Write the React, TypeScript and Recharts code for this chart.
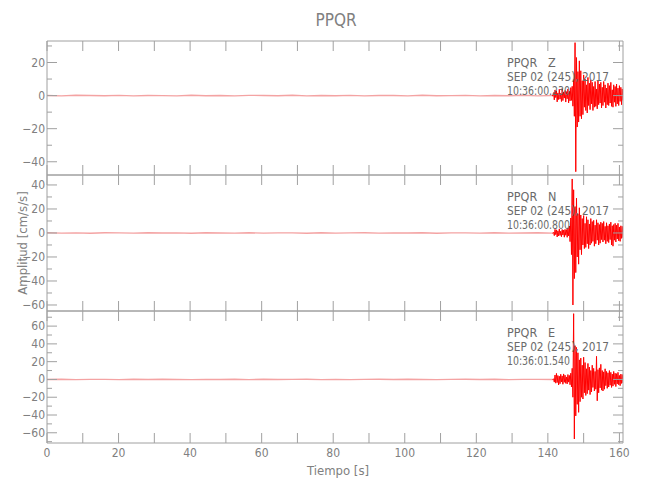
import { LineChart, Line, XAxis, YAxis } from "recharts";

// tick positions
const X_TICKS = [0, 10, 20, 30, 40, 50, 60, 70, 80, 90, 100, 110, 120, 130, 140, 150, 160];
const Z_TICKS = [-40, -30, -20, -10, 0, 10, 20, 30];
const N_TICKS = [-60, -50, -40, -30, -20, -10, 0, 10, 20, 30, 40];
const E_TICKS = [-70, -60, -50, -40, -30, -20, -10, 0, 10, 20, 30, 40, 50, 60, 70];

// pre-event noise, 36 samples from 0 s to 141.2 s
const NOISE_DT = 141.2 / 35;
const Z_NOISE = [0.1, -0.15, 0.2, 0.05, -0.1, 0.15, -0.2, 0.1, 0.0, -0.15, 0.2, -0.05, 0.1, -0.2, 0.15, 0.05, -0.1, 0.2, -0.15, 0.1, -0.05, 0.15, -0.2, 0.1, 0.05, -0.15, 0.2, -0.1, 0.0, 0.15, -0.2, 0.1, -0.05, 0.2, -0.15, 0.1];
const N_NOISE = [0.15, -0.1, 0.05, -0.2, 0.15, 0.1, -0.15, 0.2, -0.05, 0.1, -0.2, 0.15, 0.0, -0.1, 0.2, -0.15, 0.05, 0.1, -0.2, 0.15, -0.1, 0.05, 0.2, -0.15, 0.1, -0.05, 0.15, -0.2, 0.1, 0.05, -0.15, 0.2, -0.1, 0.0, 0.15, -0.1];
const E_NOISE = [-0.1, 0.15, -0.2, 0.1, 0.05, -0.15, 0.2, -0.1, 0.15, 0.0, -0.2, 0.1, -0.05, 0.15, -0.15, 0.2, -0.1, 0.05, 0.15, -0.2, 0.1, -0.15, 0.05, 0.2, -0.1, 0.15, -0.05, -0.2, 0.1, 0.15, -0.1, 0.2, -0.15, 0.05, 0.1, -0.1];

// event, sampled every 0.2 s from 141.2 s (cm/s/s)
const SIG_T0 = 141.2;
const SIG_DT = 0.2;
const Z_SIGNAL = [
  0.3, -0.4, 1.8, -2.6, 3.4, -1.2, 2.9, -3.8, 1.6, -2.4,
  3.9, -2.1, 1.4, -3.6, 4.2, -3.0, 2.2, -1.5, 3.1, -3.9,
  2.4, -1.9, 4.0, -4.4, 2.6, -3.2, 4.8, -2.9, 5.6, -6.4,
  9.8, -12.5, 32.0, -46.0, 23.0, -19.0, 14.5, -16.0, 21.0, -12.5,
  15.0, -14.0, 9.0, -11.5, 12.5, -7.0, 10.0, -9.0, 6.5, -10.5,
  11.0, -6.0, 7.5, -8.5, 9.5, -5.0, 8.0, -9.0, 5.5, -7.0,
  8.5, -6.5, 4.0, -8.0, 9.0, -5.5, 7.0, -4.5, 8.0, -7.5,
  5.0, -6.0, 8.5, -4.0, 6.5, -7.5, 4.5, -5.5, 7.5, -6.0,
  6.0, -4.5, 8.0, -6.5, 3.5, -7.0, 6.5, -4.0, 5.5, -6.5,
  7.0, -5.0, 4.5, -6.0, 6.0, -3.5, 5.0, -5.5, 4.0, -3.0,
];
const N_SIGNAL = [
  0.2, -0.3, 0.5, -2.2, 3.0, -1.4, 2.6, -3.3, 1.8, -2.5,
  3.4, -2.0, 1.5, -3.1, 2.9, -1.7, 2.4, -3.5, 3.0, -1.9,
  2.8, -3.6, 4.2, -2.5, 5.8, -7.2, 12.5, -18.0, 45.0, -60.0,
  36.0, -38.0, 22.0, -33.0, 29.0, -20.0, 16.0, -26.0, 21.0, -14.0,
  15.0, -18.0, 12.0, -10.0, 14.5, -13.0, 8.0, -12.0, 13.5, -9.0,
  11.0, -13.0, 7.5, -10.0, 12.0, -8.5, 9.5, -7.0, 10.5, -11.0,
  6.5, -9.0, 11.0, -6.0, 8.5, -10.0, 7.0, -8.5, 9.0, -5.5,
  8.0, -7.5, 9.5, -6.0, 5.5, -9.0, 8.5, -7.0, 6.0, -8.0,
  7.5, -5.5, 9.0, -10.0, 6.0, -11.0, 7.0, -6.0, 8.0, -7.5,
  6.5, -5.0, 8.0, -6.5, 5.0, -7.0, 6.0, -4.5, 5.5, -4.0,
];
const E_SIGNAL = [
  0.3, -0.2, 0.6, -3.0, 5.0, -4.2, 6.8, -3.5, 4.4, -6.2,
  3.6, -4.8, 5.8, -2.9, 4.0, -5.4, 6.2, -3.2, 4.8, -4.4,
  2.8, -5.0, 5.5, -3.0, 4.5, -6.0, 7.0, -8.5, 12.5, -20.0,
  74.0, -67.0, 38.0, -41.0, 36.0, -28.0, 30.0, -37.0, 22.0, -25.0,
  24.0, -20.0, 16.0, -22.0, 25.0, -15.0, 19.0, -18.0, 12.0, -16.0,
  18.0, -12.0, 14.0, -17.0, 10.0, -14.0, 16.0, -9.0, 12.5, -13.0,
  9.0, -11.0, 26.0, -24.0, 11.0, -15.0, 13.0, -9.5, 17.0, -12.0,
  10.0, -13.0, 8.5, -11.0, 12.0, -7.0, 9.0, -10.0, 7.5, -8.5,
  10.0, -6.5, 8.0, -9.0, 6.0, -7.5, 9.0, -5.5, 7.0, -8.0,
  6.5, -5.0, 8.0, -6.0, 4.5, -7.0, 6.0, -4.5, 5.5, -4.0,
];

const STATION = "PPQR";
const DATE_LINE = "SEP 02 (245), 2017";

const GRAY = "#a0a0a0";
const TXT = "#808080";
const FONT = "'Liberation Sans Narrow', 'DejaVu Sans Condensed', 'Arial Narrow', sans-serif";
const PAD = 2;

const toNoise = (arr: number[]) => arr.map((v, i) => ({ t: +(i * NOISE_DT).toFixed(3), v }));
const toSignal = (arr: number[]) => arr.map((v, i) => ({ t: +(SIG_T0 + i * SIG_DT).toFixed(2), v }));
const fmt = (v: number) => String(v).replace("-", "\u2212");

const panels = [
  { comp: "Z", start: "10:36:00.230", top: 41, height: 134, domain: [-48, 33], ticks: Z_TICKS, noise: Z_NOISE, signal: Z_SIGNAL },
  { comp: "N", start: "10:36:00.800", top: 175, height: 136, domain: [-65, 48.3], ticks: N_TICKS, noise: N_NOISE, signal: N_SIGNAL },
  { comp: "E", start: "10:36:01.540", top: 311, height: 132, domain: [-71.5, 77], ticks: E_TICKS, noise: E_NOISE, signal: E_SIGNAL },
];

function LeftTick({ x, y, payload }: any) {
  const v = payload.value;
  const major = v % 20 === 0;
  return (
    <g>
      <line x1={x} x2={x + (major ? 10 : 5)} y1={y} y2={y} stroke={GRAY} />
      {major && (
        <text x={x - 2} y={y} textAnchor="end" dominantBaseline="central" fontSize={12} fill={TXT} fontFamily={FONT}>
          {fmt(v)}
        </text>
      )}
    </g>
  );
}

function RightTick({ x, y, payload }: any) {
  const major = payload.value % 20 === 0;
  return <line x1={x} x2={x - (major ? 10 : 5)} y1={y} y2={y} stroke={GRAY} />;
}

function BottomTick({ x, y, payload, label }: any) {
  const v = payload.value;
  return (
    <g>
      <line x1={x} x2={x} y1={y} y2={y - 10} stroke={GRAY} />
      {label && v % 20 === 0 && (
        <text x={x} y={y + 10} textAnchor="middle" dominantBaseline="central" fontSize={12} fill={TXT} fontFamily={FONT}>
          {v}
        </text>
      )}
    </g>
  );
}

function TopTick({ x, y }: any) {
  return <line x1={x} x2={x} y1={y} y2={y + 10} stroke={GRAY} />;
}

function Panel({ p, last }: any) {
  const xh = last ? 30 : 1;
  return (
    <div style={{ position: "absolute", left: 0, top: p.top - PAD - 1 }}>
      <LineChart
        width={650}
        height={p.height + PAD + 1 + xh + (last ? 0 : PAD)}
        margin={{ top: PAD, right: 17, bottom: last ? 0 : PAD, left: 7 }}
      >
        <XAxis
          xAxisId="b"
          dataKey="t"
          type="number"
          domain={[0, 161]}
          ticks={X_TICKS}
          interval={0}
          allowDataOverflow
          height={xh}
          tickSize={0}
          tickMargin={0}
          axisLine={{ stroke: GRAY }}
          tick={(props: any) => <BottomTick {...props} label={last} />}
        />
        <XAxis
          xAxisId="t"
          orientation="top"
          dataKey="t"
          type="number"
          domain={[0, 161]}
          ticks={X_TICKS}
          interval={0}
          allowDataOverflow
          height={1}
          tickSize={0}
          tickMargin={0}
          axisLine={{ stroke: GRAY }}
          tick={(props: any) => <TopTick {...props} />}
        />
        <YAxis
          yAxisId="l"
          type="number"
          domain={p.domain}
          ticks={p.ticks}
          interval={0}
          allowDataOverflow
          width={40}
          tickSize={0}
          tickMargin={0}
          axisLine={{ stroke: GRAY }}
          tick={(props: any) => <LeftTick {...props} />}
        />
        <YAxis
          yAxisId="r"
          orientation="right"
          type="number"
          domain={p.domain}
          ticks={p.ticks}
          interval={0}
          allowDataOverflow
          width={10}
          tickSize={0}
          tickMargin={0}
          axisLine={{ stroke: GRAY }}
          tick={(props: any) => <RightTick {...props} />}
        />
        <Line
          xAxisId="b"
          yAxisId="l"
          data={toNoise(p.noise)}
          dataKey="v"
          type="linear"
          stroke="#f4a3a3"
          strokeWidth={1.4}
          dot={false}
          isAnimationActive={false}
        />
        <Line
          xAxisId="t"
          yAxisId="r"
          data={toSignal(p.signal)}
          dataKey="v"
          type="linear"
          stroke="#ff0000"
          strokeWidth={1}
          dot={false}
          isAnimationActive={false}
        />
      </LineChart>
    </div>
  );
}

export default function App() {
  return (
    <div style={{ position: "absolute", left: 0, top: 0, width: 650, height: 500, background: "#fff" }}>
      {panels.map((p, i) => (
        <Panel key={p.comp} p={p} last={i === panels.length - 1} />
      ))}
      <svg width={650} height={500} style={{ position: "absolute", left: 0, top: 0, pointerEvents: "none" }}>
        <text x={336} y={20} textAnchor="middle" dominantBaseline="central" fontSize={17} fill={TXT} fontFamily={FONT}>
          {STATION}
        </text>
        {panels.map((p) => (
          <g key={p.comp} fontFamily={FONT} fontSize={12.5} fill="#6a6a6a">
            <text x={507} y={p.top + 21} dominantBaseline="central">
              {STATION}{"\u00a0\u00a0\u00a0"}{p.comp}
            </text>
            <text x={507} y={p.top + 35} dominantBaseline="central" textLength={102} lengthAdjust="spacingAndGlyphs">
              {DATE_LINE}
            </text>
            <text x={507} y={p.top + 49} dominantBaseline="central" textLength={63} lengthAdjust="spacingAndGlyphs">
              {p.start}
            </text>
          </g>
        ))}
        <text
          x={22}
          y={243}
          transform="rotate(-90 22 243)"
          textAnchor="middle"
          dominantBaseline="central"
          fontSize={13}
          fill={TXT}
          fontFamily={FONT}
        >
          Amplitud [cm/s/s]
        </text>
        <text x={338} y={470} textAnchor="middle" dominantBaseline="central" fontSize={13} fill={TXT} fontFamily={FONT}>
          Tiempo [s]
        </text>
      </svg>
    </div>
  );
}
